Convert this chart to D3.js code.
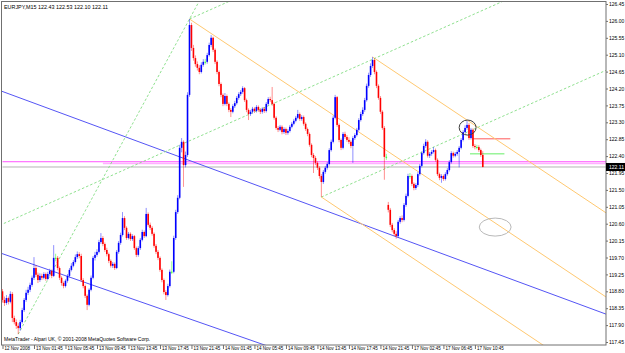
<!DOCTYPE html>
<html>
<head>
<meta charset="utf-8">
<script src="https://cdnjs.cloudflare.com/ajax/libs/d3/7.8.5/d3.min.js"></script>
<style>
body { margin: 0; background: #fff; }
svg { display: block; }
text { font-family: "Liberation Sans", Arial, sans-serif; }
</style>
</head>
<body>
<div class="chart-container"></div>
<script>
var width = 625;
var height = 353;
var plot = { left: 1.5, top: 1.5, right: 606, bottom: 345 };
var visibleBars = 306.6;

var symbol = "EURJPY,M15";
var copyright = "MetaTrader - Alpari UK, \u00a9 2001-2008 MetaQuotes Software Corp.";

// M15 bars, open = previous close except after the weekend
var firstOpen = 118.80;
var gapOpens = { 196: 121.10 };
var closes = [
  118.57,118.49,118.62,118.52,118.73,118.09,117.98,117.88,117.82,117.98,
  118.30,118.57,118.76,118.84,118.97,119.16,119.42,119.24,119.10,119.21,
  119.16,119.26,119.13,119.26,119.34,119.21,119.69,119.69,119.42,119.16,
  119.02,118.94,119.08,119.21,119.37,119.48,119.58,119.71,119.79,119.74,
  119.10,118.94,118.68,118.44,118.84,119.16,119.69,119.77,119.85,120.11,
  120.22,120.06,119.90,119.79,119.61,119.48,119.53,119.42,119.85,120.09,
  120.30,120.75,120.49,120.22,120.33,120.19,120.27,119.95,119.77,119.95,
  120.17,120.38,120.27,120.86,120.57,120.49,120.33,120.01,119.85,119.69,
  119.37,119.10,118.78,118.70,118.94,119.32,119.32,120.22,120.91,121.29,
  122.62,122.78,122.16,122.43,124.03,125.89,125.28,125.01,124.85,124.75,
  124.64,124.83,124.91,124.91,125.09,125.36,125.55,125.23,124.91,124.64,
  124.32,124.03,123.79,124.00,123.79,123.63,123.58,123.73,123.81,123.95,
  124.05,124.11,124.21,123.89,123.63,123.52,123.58,123.66,123.60,123.71,
  123.63,123.58,123.66,123.60,123.79,123.92,123.89,123.79,123.42,123.15,
  123.10,123.18,123.04,123.12,123.02,123.07,123.18,123.26,123.34,123.42,
  123.52,123.39,123.44,123.26,123.12,122.99,122.70,122.43,122.35,122.22,
  122.09,121.87,121.71,121.98,122.09,122.19,122.56,122.78,123.42,123.97,
  123.23,122.83,122.62,122.99,122.91,122.83,122.78,122.67,122.88,122.96,
  123.10,123.36,123.52,123.63,123.89,124.27,124.56,124.80,124.96,124.64,
  124.27,123.95,123.58,123.15,122.38,122.38,120.97,120.57,120.43,120.33,
  120.27,120.65,120.75,120.70,121.10,121.34,121.87,121.87,121.66,121.55,
  121.63,121.92,122.14,122.48,122.67,122.78,122.41,122.46,122.51,122.56,
  122.30,121.92,121.82,121.87,121.79,121.92,122.03,122.24,122.48,122.41,
  122.46,122.51,122.62,122.83,123.04,123.15,123.23,122.88,123.10,122.67,
  122.64,122.64,122.56,122.43,122.11
];
var highs = [
  118.86,118.66,118.70,118.66,118.80,118.78,118.15,118.05,117.95,118.04,
  118.36,118.62,118.84,118.92,119.03,119.22,119.71,119.50,119.30,119.28,
  119.27,119.31,119.30,119.32,119.40,119.38,120.03,119.80,119.74,119.46,
  119.20,119.06,119.12,119.26,119.42,119.55,119.63,119.78,119.86,119.84,
  119.80,119.15,118.98,118.72,118.88,119.22,119.74,119.85,119.92,120.17,
  120.35,120.27,120.10,119.96,119.83,119.65,119.58,119.57,119.90,120.14,
  120.36,120.91,120.80,120.53,120.38,120.37,120.32,120.30,119.99,120.00,
  120.22,120.44,120.42,121.02,120.90,120.63,120.54,120.37,120.06,119.90,
  119.73,119.41,119.14,118.83,119.00,119.38,119.60,120.28,120.97,121.36,
  122.70,122.88,122.82,122.52,124.10,126.05,125.95,125.36,125.08,124.92,
  124.82,124.90,124.98,124.99,125.15,125.42,125.62,125.58,125.27,124.95,
  124.68,124.36,124.07,124.08,124.04,123.83,123.68,123.78,123.87,124.00,
  124.10,124.16,124.26,124.24,123.93,123.67,123.63,123.71,123.70,123.76,
  123.75,123.67,123.70,123.70,123.84,123.97,123.98,124.24,123.83,123.46,
  123.20,123.23,123.22,123.17,123.16,123.12,123.23,123.31,123.39,123.47,
  123.63,123.56,123.49,123.48,123.30,123.16,123.03,122.74,122.48,122.40,
  122.26,122.13,121.92,122.03,122.14,122.24,122.61,122.84,123.48,124.03,
  124.00,123.27,122.87,123.04,123.05,122.96,122.90,122.82,122.93,123.01,
  123.15,123.41,123.58,123.70,123.95,124.33,124.62,124.87,125.04,125.00,
  124.68,124.31,124.00,123.62,123.20,122.46,121.18,121.02,120.62,120.48,
  120.40,120.70,120.80,120.82,121.15,121.40,121.93,121.95,121.91,121.70,
  121.68,121.97,122.19,122.53,122.73,122.85,122.82,122.51,122.56,122.64,
  122.60,122.34,121.96,121.92,121.91,121.97,122.08,122.29,122.53,122.52,
  122.51,122.56,122.67,122.88,123.09,123.22,123.34,123.28,123.15,123.14,
  122.72,122.70,122.69,122.60,122.53
];
var lows = [
  118.50,118.41,118.44,118.45,118.48,117.98,117.92,117.80,117.66,117.75,
  117.94,118.25,118.52,118.70,118.78,118.92,119.10,119.18,119.02,119.05,
  119.10,119.12,119.08,119.10,119.21,119.15,119.18,119.60,119.36,119.10,
  118.95,118.88,118.90,119.03,119.17,119.33,119.44,119.54,119.66,119.68,
  119.05,118.88,118.62,118.30,118.40,118.80,119.12,119.62,119.72,119.81,
  120.06,120.00,119.85,119.73,119.55,119.43,119.42,119.37,119.39,119.80,
  120.04,120.26,120.43,120.17,120.18,120.14,120.14,119.90,119.71,119.72,
  119.90,120.13,120.22,120.24,120.52,120.43,120.28,119.96,119.79,119.63,
  119.32,119.04,118.72,118.57,118.66,118.90,119.26,119.28,120.17,120.86,
  121.25,122.50,121.58,122.10,122.38,123.98,125.20,124.94,124.78,124.68,
  124.58,124.60,124.78,124.84,124.86,125.05,125.30,125.17,124.85,124.58,
  124.26,123.97,123.73,123.75,123.73,123.57,123.44,123.54,123.68,123.77,
  123.90,124.00,124.06,123.84,123.57,123.36,123.47,123.53,123.55,123.56,
  123.58,123.52,123.53,123.55,123.56,123.75,123.84,123.74,123.37,123.10,
  123.04,123.06,122.98,122.99,122.96,122.97,123.03,123.14,123.22,123.30,
  123.38,123.34,123.34,123.21,123.07,122.93,122.65,122.37,121.95,122.16,
  122.03,121.80,121.31,121.66,121.93,122.04,122.15,122.52,122.74,123.38,
  123.18,122.77,122.56,122.58,122.86,122.78,122.72,122.61,122.22,122.83,
  122.92,123.06,123.32,123.47,123.58,123.85,124.22,124.51,124.75,124.58,
  124.21,123.90,123.52,123.10,121.77,122.30,120.90,120.51,120.37,120.27,
  120.20,120.23,120.60,120.64,120.66,121.05,121.30,121.80,121.60,121.49,
  121.50,121.58,121.88,122.10,122.44,122.62,122.36,122.35,122.41,122.47,
  122.25,121.87,121.76,121.69,121.74,121.75,121.88,121.99,122.20,122.36,
  122.37,122.41,122.10,122.58,122.79,123.00,123.10,122.83,122.84,122.62,
  122.58,122.58,122.51,122.38,122.10
];

var priceTicks = [126.45, 126.00, 125.55, 125.10, 124.65, 124.20, 123.75, 123.30, 122.85, 122.40,
  121.95, 121.50, 121.05, 120.60, 120.15, 119.70, 119.25, 118.80, 118.35, 117.90, 117.45];
var timeLabels = ["12 Nov 2008", "13 Nov 01:45", "13 Nov 05:45", "13 Nov 09:45", "13 Nov 13:45",
  "13 Nov 17:45", "13 Nov 21:45", "14 Nov 01:45", "14 Nov 05:45", "14 Nov 09:45", "14 Nov 13:45",
  "14 Nov 17:45", "14 Nov 21:45", "17 Nov 02:45", "17 Nov 06:45", "17 Nov 10:45"];
var barsPerLabel = 16;

// chart objects, anchored at [bar, price]
var trendLines = [
  { a: [0, 124.12], b: [300, 118.32], ext: "both", color: "#5555f5", dash: null },
  { a: [0, 119.80], b: [120, 117.61], ext: "both", color: "#5555f5", dash: null },
  { a: [95, 126.05], b: [300, 118.88], ext: "right", color: "#ffc870", dash: null },
  { a: [188, 125.04], b: [300, 121.12], ext: "right", color: "#ffc870", dash: null },
  { a: [162, 121.31], b: [300, 116.48], ext: "right", color: "#ffc870", dash: null },
  { a: [8, 117.66], b: [95, 126.05], ext: "right", color: "#82dc82", dash: "2.5,2" },
  { a: [95, 126.05], b: [200, 128.50], ext: "right", color: "#82dc82", dash: "2.5,2" },
  { a: [0, 120.59], b: [300, 127.59], ext: "both", color: "#82dc82", dash: "2.5,2" },
  { a: [162, 121.31], b: [300, 124.53], ext: "right", color: "#82dc82", dash: "2.5,2" }
];
var hLines = [
  { price: 122.20, from: 51, to: visibleBars, color: "#ffb0ff", w: 1.5 },
  { price: 122.25, from: 0, to: visibleBars, color: "#ff55ff", w: 1 },
  { price: 122.11, from: 0, to: visibleBars, color: "#b4b4b4", w: 1 },
  { price: 122.86, from: 239, to: 258, color: "#ff5a5a", w: 1 },
  { price: 122.46, from: 237.5, to: 255, color: "#66ee66", w: 1 }
];
var ellipses = [
  { a: [232, 123.36], b: [240.6, 122.96], color: "#3c3c3c" },
  { a: [242.2, 120.75], b: [258.4, 120.27], color: "#b8b8b8" }
];

var bars = closes.map(function (c, i) {
  var o = i === 0 ? firstOpen : (gapOpens[i] != null ? gapOpens[i] : closes[i - 1]);
  return { i: i, o: o, h: highs[i], l: lows[i], c: c };
});

var x = d3.scaleLinear().domain([0, visibleBars]).range([2.5, plot.right]);
var y = d3.scaleLinear().domain([117.45, 126.45]).range([342, 4]);

var svg = d3
  .select(".chart-container")
  .append("svg")
  .attr("width", width)
  .attr("height", height);

svg.append("rect").attr("width", width).attr("height", height).style("fill", "#ffffff");

svg.append("clipPath").attr("id", "plotclip")
  .append("rect")
  .attr("x", plot.left).attr("y", plot.top)
  .attr("width", plot.right - plot.left).attr("height", plot.bottom - plot.top);

var g = svg.append("g").attr("clip-path", "url(#plotclip)");

// horizontal objects and bid line
g.selectAll(".hline")
  .data(hLines)
  .enter()
  .append("line")
  .attr("x1", function (d) { return x(d.from); })
  .attr("x2", function (d) { return x(d.to); })
  .attr("y1", function (d) { return y(d.price); })
  .attr("y2", function (d) { return y(d.price); })
  .style("stroke", function (d) { return d.color; })
  .style("stroke-width", function (d) { return d.w; });

// trend lines, extended as rays
const extendLine = (d) => {
  var x1 = x(d.a[0]), y1 = y(d.a[1]), x2 = x(d.b[0]), y2 = y(d.b[1]);
  var k = (y2 - y1) / (x2 - x1);
  var xa = d.ext === "both" ? plot.left - 10 : x1;
  var xb = plot.right + 10;
  return [[xa, y1 + k * (xa - x1)], [xb, y1 + k * (xb - x1)]];
};

g.selectAll(".trend")
  .data(trendLines)
  .enter()
  .append("path")
  .attr("d", function (d) { return d3.line()(extendLine(d)); })
  .style("fill", "none")
  .style("stroke", function (d) { return d.color; })
  .style("stroke-width", function (d) { return d.dash ? 0.9 : 1; })
  .style("stroke-dasharray", function (d) { return d.dash; });

// candles
const barColor = (d) => (d.c > d.o ? "#0000ff" : d.c < d.o ? "#ff0000" : "#00ff00");

var candle = g.selectAll(".bar").data(bars).enter().append("g");

candle.append("line")
  .attr("x1", function (d) { return x(d.i); })
  .attr("x2", function (d) { return x(d.i); })
  .attr("y1", function (d) { return y(d.h); })
  .attr("y2", function (d) { return y(d.l); })
  .style("stroke", barColor)
  .style("stroke-width", 0.8)
  .style("opacity", 0.55);

candle.append("rect")
  .attr("x", function (d) { return x(d.i) - 0.8; })
  .attr("width", 1.6)
  .attr("y", function (d) { return y(Math.max(d.o, d.c)); })
  .attr("height", function (d) { return Math.max(0.7, Math.abs(y(d.o) - y(d.c))); })
  .style("fill", barColor);

// ellipses
g.selectAll(".ell")
  .data(ellipses)
  .enter()
  .append("ellipse")
  .attr("cx", function (d) { return (x(d.a[0]) + x(d.b[0])) / 2; })
  .attr("cy", function (d) { return (y(d.a[1]) + y(d.b[1])) / 2; })
  .attr("rx", function (d) { return Math.abs(x(d.b[0]) - x(d.a[0])) / 2; })
  .attr("ry", function (d) { return Math.abs(y(d.b[1]) - y(d.a[1])) / 2; })
  .style("fill", "none")
  .style("stroke", function (d) { return d.color; })
  .style("stroke-width", 1);

// frame
svg.append("rect")
  .attr("x", plot.left).attr("y", plot.top)
  .attr("width", plot.right - plot.left).attr("height", plot.bottom - plot.top)
  .style("fill", "none")
  .style("stroke", "#707070")
  .style("stroke-width", 1);

// price scale
var priceAxis = svg.append("g")
  .attr("transform", "translate(" + plot.right + ",0)")
  .call(d3.axisRight(y).tickValues(priceTicks).tickFormat(d3.format(".2f")).tickSize(2).tickSizeOuter(0));
priceAxis.select(".domain").remove();
priceAxis.selectAll("line").style("stroke", "#707070");
priceAxis.selectAll("text")
  .attr("x", 3)
  .style("font-size", "5px")
  .style("fill", "#000");

var last = bars[bars.length - 1];
svg.append("rect")
  .attr("x", plot.right).attr("y", y(last.c) - 4)
  .attr("width", width - plot.right).attr("height", 8)
  .style("fill", "#000");
svg.append("text")
  .attr("x", plot.right + 3).attr("y", y(last.c))
  .attr("dy", "0.35em")
  .style("font-size", "5px")
  .style("fill", "#fff")
  .text(last.c.toFixed(2));

// time scale
var timeTicks = timeLabels.map(function (d, i) { return i * barsPerLabel; });
var timeAxis = svg.append("g")
  .attr("transform", "translate(0," + plot.bottom + ")")
  .call(d3.axisBottom(x).tickValues(timeTicks).tickFormat(function (d) { return timeLabels[d / barsPerLabel]; }).tickSize(4).tickSizeOuter(0));
timeAxis.select(".domain").remove();
timeAxis.selectAll("line").style("stroke", "#707070");
timeAxis.selectAll("text")
  .attr("y", 1.4)
  .attr("dy", "0.71em")
  .attr("dx", 1.5)
  .style("text-anchor", "start")
  .style("font-size", "4.5px")
  .style("fill", "#000");

// captions
svg.append("text")
  .attr("x", 4).attr("y", 9)
  .style("font-size", "5.4px")
  .text(symbol + "  " + [last.o, last.h, last.l, last.c].map(function (v) { return v.toFixed(2); }).join(" "));

svg.append("text")
  .attr("x", 4).attr("y", 341)
  .style("font-size", "5px")
  .text(copyright);
</script>
</body>
</html>
